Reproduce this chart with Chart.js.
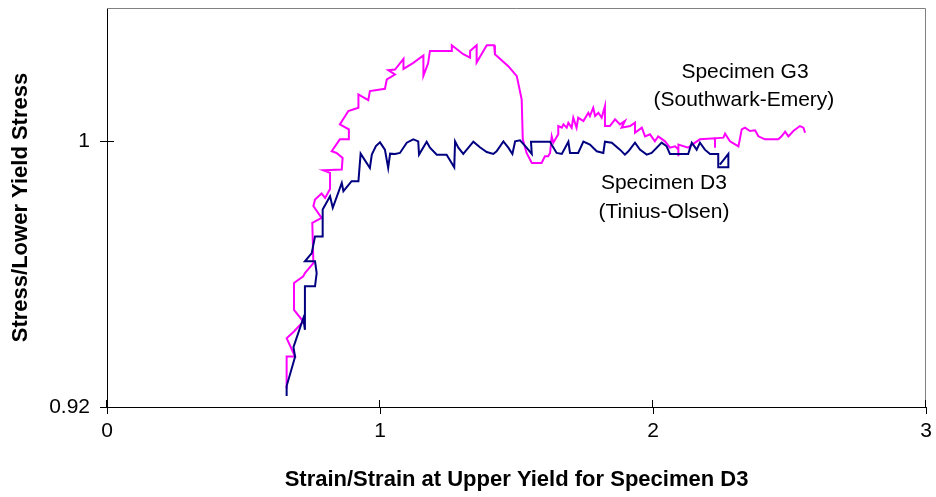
<!DOCTYPE html>
<html>
<head>
<meta charset="utf-8">
<script src="https://cdn.jsdelivr.net/npm/chart.js@4/dist/chart.umd.min.js"></script>
<style>
  html, body { margin: 0; padding: 0; background: #ffffff; }
  #wrap { width: 936px; height: 497px; }
</style>
</head>
<body>
<div id="wrap"><canvas id="chart" width="936" height="497"></canvas></div>
<script>
// Axis ticks
const xTickValues = [0, 1, 2, 3];
const yTickValues = [0.92, 1];

// Specimen D3 (Tinius-Olsen): normalised strain / normalised stress
const d3Strain = [0.658, 0.658, 0.689, 0.683, 0.719, 0.725, 0.725, 0.762, 0.768, 0.762, 0.725, 0.750, 0.762, 0.790, 0.790, 0.817, 0.827, 0.860, 0.866, 0.896, 0.921, 0.929, 0.963, 0.970, 0.985, 1.000, 1.018, 1.030, 1.037, 1.055, 1.073, 1.098, 1.122, 1.140, 1.143, 1.171, 1.183, 1.208, 1.244, 1.272, 1.275, 1.287, 1.305, 1.342, 1.366, 1.391, 1.415, 1.427, 1.452, 1.470, 1.485, 1.495, 1.513, 1.537, 1.556, 1.553, 1.604, 1.623, 1.629, 1.647, 1.666, 1.690, 1.696, 1.726, 1.745, 1.769, 1.794, 1.818, 1.824, 1.849, 1.879, 1.897, 1.910, 1.934, 1.952, 1.977, 1.995, 2.032, 2.050, 2.062, 2.129, 2.142, 2.160, 2.172, 2.190, 2.209, 2.239, 2.239, 2.276, 2.276, 2.245];
const d3Stress = [0.9233, 0.9263, 0.9351, 0.9380, 0.9467, 0.9432, 0.9563, 0.9563, 0.9603, 0.9638, 0.9638, 0.9663, 0.9713, 0.9713, 0.9794, 0.9834, 0.9799, 0.9874, 0.9849, 0.9879, 0.9879, 0.9962, 0.9919, 0.9959, 0.9985, 0.9996, 0.9974, 0.9919, 0.9962, 0.9961, 0.9964, 0.9995, 1.0005, 0.9999, 0.9959, 0.9998, 0.9980, 0.9959, 0.9959, 0.9921, 0.9999, 0.9980, 0.9961, 0.9998, 0.9981, 0.9967, 0.9961, 0.9969, 0.9999, 0.9980, 0.9961, 0.9999, 1.0002, 0.9980, 0.9961, 0.9998, 0.9998, 0.9998, 0.9989, 0.9964, 0.9961, 0.9998, 0.9964, 0.9964, 0.9998, 0.9989, 0.9969, 0.9964, 0.9998, 0.9995, 0.9974, 0.9959, 0.9969, 0.9995, 0.9974, 0.9959, 0.9964, 0.9995, 0.9984, 0.9961, 0.9961, 0.9995, 0.9974, 0.9995, 0.9974, 0.9961, 0.9961, 0.9921, 0.9921, 0.9961, 0.9929];

// Specimen G3 (Southwark-Emery): normalised strain / normalised stress
const g3Strain = [0.658, 0.658, 0.689, 0.658, 0.685, 0.719, 0.685, 0.685, 0.719, 0.725, 0.756, 0.752, 0.786, 0.756, 0.762, 0.786, 0.799, 0.817, 0.817, 0.792, 0.860, 0.863, 0.841, 0.823, 0.853, 0.884, 0.886, 0.853, 0.884, 0.921, 0.921, 0.957, 0.963, 1.018, 1.025, 1.055, 1.030, 1.055, 1.086, 1.086, 1.122, 1.159, 1.159, 1.176, 1.183, 1.263, 1.263, 1.305, 1.330, 1.330, 1.354, 1.354, 1.391, 1.418, 1.421, 1.470, 1.501, 1.519, 1.523, 1.537, 1.556, 1.592, 1.604, 1.616, 1.623, 1.629, 1.635, 1.653, 1.653, 1.666, 1.672, 1.684, 1.690, 1.702, 1.708, 1.720, 1.726, 1.745, 1.763, 1.769, 1.781, 1.788, 1.800, 1.812, 1.824, 1.824, 1.842, 1.861, 1.879, 1.897, 1.885, 1.916, 1.934, 1.934, 1.959, 1.971, 1.989, 2.007, 2.019, 2.044, 2.062, 2.081, 2.093, 2.093, 2.093, 2.129, 2.154, 2.172, 2.227, 2.227, 2.227, 2.258, 2.264, 2.282, 2.313, 2.325, 2.337, 2.355, 2.374, 2.386, 2.410, 2.459, 2.471, 2.484, 2.496, 2.514, 2.538, 2.551, 2.557];
const g3Stress = [0.9256, 0.9352, 0.9352, 0.9407, 0.9427, 0.9457, 0.9492, 0.9573, 0.9593, 0.9603, 0.9633, 0.9754, 0.9769, 0.9804, 0.9824, 0.9842, 0.9829, 0.9856, 0.9904, 0.9912, 0.9914, 0.9949, 0.9964, 0.9969, 1.0005, 1.0005, 1.0035, 1.0050, 1.0090, 1.0100, 1.0140, 1.0123, 1.0150, 1.0157, 1.0185, 1.0200, 1.0213, 1.0215, 1.0247, 1.0217, 1.0235, 1.0257, 1.0196, 1.0233, 1.0271, 1.0271, 1.0288, 1.0261, 1.0251, 1.0271, 1.0288, 1.0236, 1.0288, 1.0288, 1.0261, 1.0225, 1.0195, 1.0125, 1.0005, 0.9964, 0.9934, 0.9934, 0.9954, 0.9954, 0.9964, 1.0014, 0.9995, 1.0020, 1.0045, 1.0040, 1.0050, 1.0040, 1.0055, 1.0040, 1.0070, 1.0040, 1.0070, 1.0060, 1.0085, 1.0075, 1.0100, 1.0075, 1.0085, 1.0070, 1.0105, 1.0045, 1.0045, 1.0065, 1.0050, 1.0060, 1.0040, 1.0045, 1.0055, 1.0025, 1.0040, 1.0014, 1.0020, 0.9999, 1.0014, 0.9999, 0.9980, 0.9984, 0.9974, 0.9954, 0.9989, 0.9980, 0.9995, 1.0005, 1.0008, 0.9980, 1.0008, 1.0010, 1.0022, 0.9999, 0.9984, 1.0035, 1.0040, 1.0030, 1.0032, 1.0014, 1.0005, 1.0005, 1.0014, 1.0028, 1.0014, 1.0030, 1.0045, 1.0040, 1.0025];

// Curve labels
const noteText = ['Specimen G3', '(Southwark-Emery)', 'Specimen D3', '(Tinius-Olsen)'];
const noteStrain = [2.337, 2.333, 2.040, 2.040];
const noteStress = [1.0206, 1.0122, 0.9872, 0.9785];

const FONT = '"Liberation Sans", Arial, Helvetica, sans-serif';

function toPoints(xs, ys) {
  return xs.map((v, i) => ({ x: v, y: ys[i] }));
}

function dropScalePadding(scale) {
  scale.paddingTop = 0;
  scale.paddingBottom = 0;
  scale.paddingLeft = 0;
  scale.paddingRight = 0;
}

// Plot frame (grey top/right edges) and the inner halves of the crossing tick marks
const framePlugin = {
  id: 'frame',
  beforeDatasetsDraw(chart) {
    const { ctx, chartArea: a, scales: { x, y } } = chart;
    ctx.save();
    ctx.lineWidth = 1;
    ctx.strokeStyle = '#808080';
    ctx.beginPath();
    ctx.moveTo(a.left, a.top + 0.5);
    ctx.lineTo(a.right - 0.5, a.top + 0.5);
    ctx.lineTo(a.right - 0.5, a.bottom);
    ctx.stroke();
    ctx.strokeStyle = '#000000';
    xTickValues.forEach(v => {
      const px = Math.round(x.getPixelForValue(v)) - 0.5;
      ctx.beginPath();
      ctx.moveTo(px, a.bottom);
      ctx.lineTo(px, a.bottom - 7);
      ctx.stroke();
    });
    yTickValues.forEach(v => {
      const py = Math.round(y.getPixelForValue(v)) + 0.5;
      ctx.beginPath();
      ctx.moveTo(a.left, py);
      ctx.lineTo(a.left + 7, py);
      ctx.stroke();
    });
    ctx.restore();
  }
};

// Text labels next to each curve
const notesPlugin = {
  id: 'notes',
  afterDraw(chart) {
    const { ctx, scales: { x, y } } = chart;
    ctx.save();
    ctx.font = '21px ' + FONT;
    ctx.fillStyle = '#000000';
    ctx.textAlign = 'center';
    ctx.textBaseline = 'middle';
    noteText.forEach((t, i) => {
      ctx.fillText(t, x.getPixelForValue(noteStrain[i]), y.getPixelForValue(noteStress[i]));
    });
    ctx.restore();
  }
};

new Chart(document.getElementById('chart'), {
  type: 'scatter',
  data: {
    datasets: [
      {
        label: 'Specimen D3 (Tinius-Olsen)',
        data: toPoints(d3Strain, d3Stress),
        showLine: true,
        borderColor: '#000080',
        borderWidth: 2,
        pointRadius: 0,
        tension: 0,
        fill: false
      },
      {
        label: 'Specimen G3 (Southwark-Emery)',
        data: toPoints(g3Strain, g3Stress),
        showLine: true,
        borderColor: '#FF00FF',
        borderWidth: 2,
        pointRadius: 0,
        tension: 0,
        fill: false
      }
    ]
  },
  options: {
    responsive: false,
    animation: false,
    devicePixelRatio: 1,
    layout: { padding: { top: 8, right: 10, left: 0, bottom: 0 } },
    plugins: {
      legend: { display: false },
      tooltip: { enabled: false }
    },
    scales: {
      x: {
        type: 'linear',
        min: 0,
        max: 3,
        afterBuildTicks(scale) { scale.ticks = xTickValues.map(v => ({ value: v })); },
        afterFit(scale) { scale.height = 90; dropScalePadding(scale); },
        ticks: {
          color: '#000000',
          padding: 5,
          font: { family: FONT, size: 21 },
          callback: v => String(v)
        },
        grid: {
          display: true,
          drawOnChartArea: false,
          drawTicks: true,
          tickLength: 7,
          tickColor: '#000000'
        },
        border: { display: true, color: '#000000', width: 1 },
        title: {
          display: true,
          text: 'Strain/Strain at Upper Yield for Specimen D3',
          color: '#000000',
          font: { family: FONT, size: 22, weight: 'bold' },
          padding: { top: 0, bottom: 4 }
        }
      },
      y: {
        type: 'linear',
        min: 0.92,
        max: 1.04,
        afterBuildTicks(scale) { scale.ticks = yTickValues.map(v => ({ value: v })); },
        afterFit(scale) { scale.width = 107; dropScalePadding(scale); },
        ticks: {
          color: '#000000',
          padding: 10,
          font: { family: FONT, size: 21 },
          callback: v => String(Math.round(v * 100) / 100)
        },
        grid: {
          display: true,
          drawOnChartArea: false,
          drawTicks: true,
          tickLength: 7,
          tickColor: '#000000'
        },
        border: { display: true, color: '#000000', width: 1 },
        title: {
          display: true,
          text: 'Stress/Lower Yield Stress',
          color: '#000000',
          font: { family: FONT, size: 22, weight: 'bold' },
          padding: { top: 8, bottom: 0 }
        }
      }
    }
  },
  plugins: [framePlugin, notesPlugin]
});
</script>
</body>
</html>
